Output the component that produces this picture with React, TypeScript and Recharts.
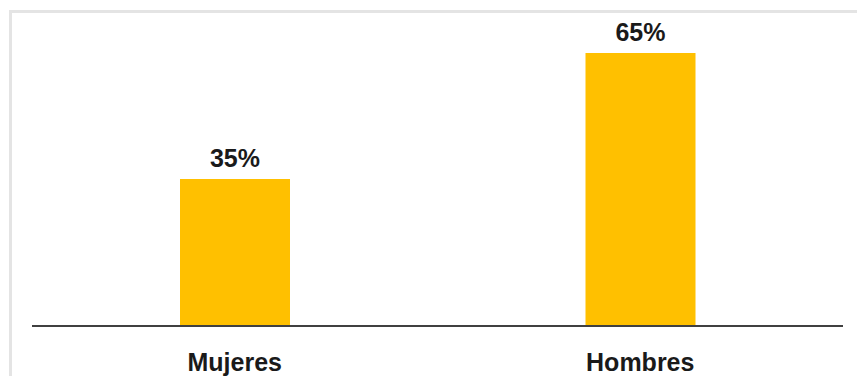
import React from "react";
import { BarChart, Bar, XAxis, YAxis, LabelList } from "recharts";

const categories = ["Mujeres", "Hombres"];
const shares = [35, 65];

const data = categories.map((name, i) => ({ name, value: shares[i] }));

// drop the default body margin so the chart sits at the page corner
document.body.style.margin = "0";

const CategoryTick = ({ x, y, payload }: any) => (
  <text
    x={x}
    y={y + 37}
    textAnchor="middle"
    fill="#1a1a1a"
    fontFamily="'Liberation Sans', Arial, sans-serif"
    fontWeight="bold"
    fontSize={25}
  >
    {payload.value}
  </text>
);

const App: React.FC = () => {
  return (
    <div
      style={{
        position: "relative",
        width: 857,
        height: 376,
        overflow: "hidden",
        background: "#fff",
      }}
    >
      {/* light frame, only top and left edges are visible */}
      <div
        style={{
          position: "absolute",
          left: 9,
          top: 10,
          width: 900,
          height: 420,
          border: "3px solid #e4e4e4",
          boxSizing: "border-box",
        }}
      />
      <div style={{ position: "absolute", left: 0, top: 0 }}>
        <BarChart
          width={857}
          height={376}
          data={data}
          margin={{ top: 32, right: 14, bottom: 0, left: 32 }}
          barCategoryGap={0}
        >
          <XAxis
            dataKey="name"
            height={50}
            axisLine={{ stroke: "#404040", strokeWidth: 2 }}
            tickLine={false}
            tick={<CategoryTick />}
            interval={0}
          />
          <YAxis hide domain={[0, 70]} />
          <Bar dataKey="value" fill="#FFC000" barSize={110} isAnimationActive={false}>
            <LabelList
              dataKey="value"
              position="top"
              offset={12}
              formatter={(v: any) => `${v}%`}
              fill="#1a1a1a"
              fontFamily="'Liberation Sans', Arial, sans-serif"
              fontWeight="bold"
              fontSize={25}
            />
          </Bar>
        </BarChart>
      </div>
    </div>
  );
};

export default App;
